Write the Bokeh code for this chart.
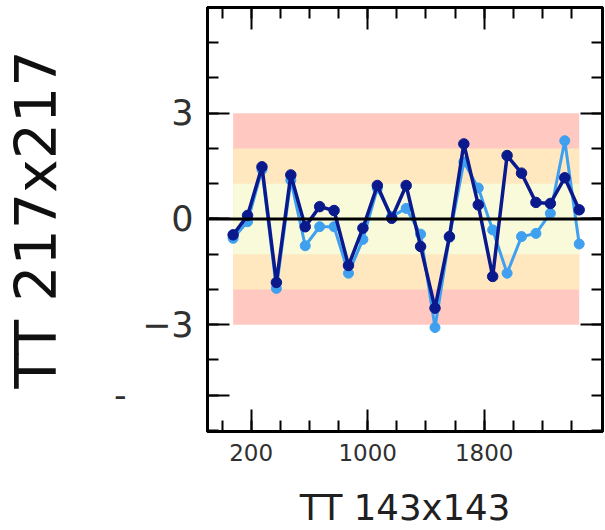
from bokeh.plotting import figure
from bokeh.models import (ColumnDataSource, LinearAxis, FixedTicker, Range1d, Span)
from bokeh.embed import file_html
from bokeh.resources import INLINE

# ---- data ----
x_vals = [76, 175, 274, 373, 472, 571, 670, 769, 868, 967, 1066, 1165, 1264,
          1363, 1462, 1561, 1660, 1759, 1858, 1957, 2056, 2155, 2254, 2353, 2452]
dark_vals = [-0.45, 0.1, 1.48, -1.8, 1.25, -0.22, 0.35, 0.24, -1.32, -0.26, 0.95, 0.02, 0.95,
             -0.78, -2.53, -0.5, 2.13, 0.4, -1.63, 1.8, 1.3, 0.47, 0.44, 1.17, 0.26]
light_vals = [-0.55, -0.08, 1.4, -1.97, 1.1, -0.76, -0.22, -0.22, -1.54, -0.58, 0.87, 0.07, 0.3,
              -0.43, -3.08, -0.52, 1.62, 0.88, -0.31, -1.54, -0.5, -0.41, 0.16, 2.22, -0.71]
band_limits = [3, 2, 1]
x_major = [200, 1000, 1800]
x_minor = [0, 200, 400, 600, 800, 1000, 1200, 1400, 1600, 1800, 2000, 2200, 2400]
y_major = [-5, -3, 0, 3]
y_minor = [-6, -5, -4, -3, -2, -1, 0, 1, 2, 3, 4, 5, 6]
y_label_text = {-5: "-" + "\u00a0" * 6}
x_title = "TT 143x143"
y_title = "TT 217x217"

FONT = "DejaVu Sans"
band_colors = ["#FFC8C0", "#FFE8C0", "#F8FADA"]
DARK = "#0A198C"
LIGHT = "#40A0F0"

p = figure(width=605, height=530, output_backend="svg", toolbar_location=None,
           x_range=Range1d(-100, 2612), y_range=Range1d(-6.03, 6.0),
           min_border_left=207, min_border_right=3, min_border_top=7, min_border_bottom=97)
p.background_fill_color = "white"
p.border_fill_color = "white"
p.grid.visible = False
p.outline_line_color = "black"
p.outline_line_width = 3

# bands
for lim, col in zip(band_limits, band_colors):
    p.varea(x=[x_vals[0], x_vals[-1]], y1=[-lim, -lim], y2=[lim, lim], fill_color=col)

p.add_layout(Span(location=0, dimension="width", line_color="black", line_width=3))

light_src = ColumnDataSource(dict(x=x_vals, y=light_vals))
dark_src = ColumnDataSource(dict(x=x_vals, y=dark_vals))
p.line("x", "y", source=light_src, line_color=LIGHT, line_width=3)
p.scatter("x", "y", source=light_src, size=10, fill_color=LIGHT, line_color=LIGHT)
p.line("x", "y", source=dark_src, line_color=DARK, line_width=3.5)
p.scatter("x", "y", source=dark_src, size=10.5, fill_color=DARK, line_color=DARK)

xt = FixedTicker(ticks=x_major, minor_ticks=x_minor)
yt = FixedTicker(ticks=y_major, minor_ticks=y_minor)


def style(ax, labels=True):
    ax.axis_line_color = "black"
    ax.axis_line_width = 3
    ax.major_tick_in = 22
    ax.major_tick_out = 0
    ax.minor_tick_in = 11
    ax.minor_tick_out = 0
    ax.major_tick_line_width = 2
    ax.minor_tick_line_width = 2
    ax.major_tick_line_color = "black"
    ax.minor_tick_line_color = "black"
    if not labels:
        ax.major_label_text_font_size = "1px"
        ax.major_label_text_color = None
        ax.major_label_standoff = 0
        ax.axis_label = None


xa = p.xaxis[0]
xa.ticker = xt
style(xa)
xa.major_label_text_font = FONT
xa.major_label_text_font_size = "23px"
xa.major_label_text_color = "#303030"
xa.major_label_standoff = 12
xa.axis_label = x_title
xa.axis_label_text_font = FONT
xa.axis_label_text_font_size = "35.5px"
xa.axis_label_text_font_style = "normal"
xa.axis_label_text_color = "#202020"
xa.axis_label_standoff = 23

ya = p.yaxis[0]
ya.ticker = yt
style(ya)
ya.major_label_overrides = y_label_text
ya.major_label_text_font = FONT
ya.major_label_text_font_size = "35px"
ya.major_label_text_color = "#303030"
ya.major_label_standoff = 14
ya.axis_label = y_title
ya.axis_label_text_font = FONT
ya.axis_label_text_font_size = "57px"
ya.axis_label_text_font_style = "normal"
ya.axis_label_text_color = "#101010"
ya.axis_label_standoff = 42

top = LinearAxis(ticker=xt)
style(top, labels=False)
p.add_layout(top, "above")
right = LinearAxis(ticker=FixedTicker(ticks=[-3, 0, 3], minor_ticks=y_minor))
style(right, labels=False)
p.add_layout(right, "right")

open("out.html", "w").write(file_html(p, INLINE))
